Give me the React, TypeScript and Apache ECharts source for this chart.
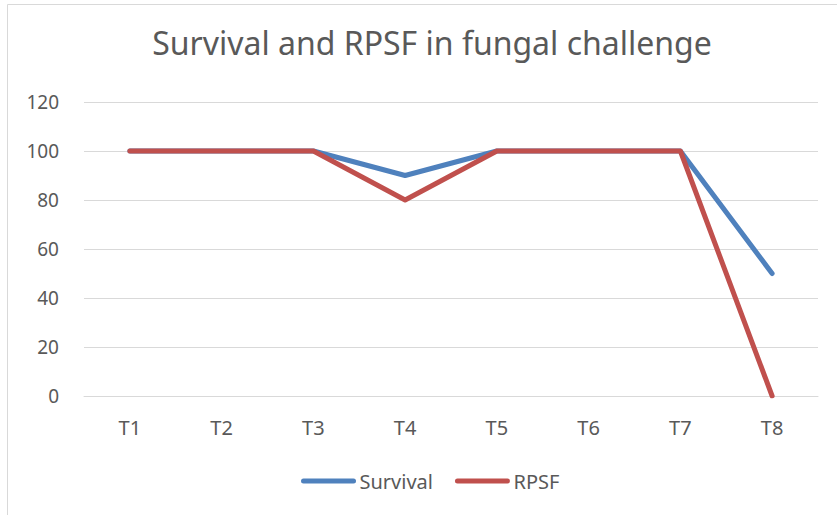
import React, { useEffect, useRef } from "react";
import * as echarts from "echarts";

const categories = ["T1", "T2", "T3", "T4", "T5", "T6", "T7", "T8"];
const survival = [100, 100, 100, 90, 100, 100, 100, 50];
const rpsf = [100, 100, 100, 80, 100, 100, 100, 0];
const titleText = "Survival and RPSF in fungal challenge";

const FONT = "'Noto Sans', sans-serif";
const TXT = "#595959";
const GRID = "#d9d9d9";

export default function App() {
  const ref = useRef<HTMLDivElement>(null);
  useEffect(() => {
    if (!ref.current) return;
    const chart = echarts.init(ref.current, undefined, { renderer: "svg" });
    const pill = "path://M2.5,0 L52.5,0 A2.5,2.5 0 0 1 52.5,5 L2.5,5 A2.5,2.5 0 0 1 2.5,0 Z";
    chart.setOption({
      animation: false,
      backgroundColor: "#ffffff",
      title: {
        text: titleText,
        left: 427,
        textAlign: "center",
        top: 21,
        textStyle: { fontFamily: FONT, fontSize: 32, fontWeight: "normal", color: TXT },
      },
      graphic: [
        {
          type: "rect",
          shape: { x: 7.5, y: 4.5, width: 1000, height: 1000 },
          style: { fill: "none", stroke: GRID, lineWidth: 1 },
          silent: true,
        },
      ],
      legend: {
        left: 296,
        top: 466,
        itemWidth: 56,
        itemHeight: 5,
        itemGap: 22,
        textStyle: { fontFamily: FONT, fontSize: 20, color: TXT, padding: [0, 0, 0, -2] },
        data: [
          { name: "Survival", icon: pill },
          { name: "RPSF", icon: pill },
        ],
      },
      grid: { left: 84, right: 19, top: 102, bottom: 119, containLabel: false },
      xAxis: {
        type: "category",
        data: categories,
        boundaryGap: true,
        axisLine: { show: true, lineStyle: { color: GRID, width: 1 } },
        axisTick: { show: false },
        axisLabel: { fontFamily: FONT, fontSize: 20, color: TXT, margin: 21 },
      },
      yAxis: {
        type: "value",
        min: 0,
        max: 120,
        interval: 20,
        axisLine: { show: false },
        axisTick: { show: false },
        splitLine: { lineStyle: { color: GRID, width: 1 } },
        axisLabel: { fontFamily: FONT, fontSize: 19, color: TXT, margin: 25 },
      },
      series: [
        {
          name: "Survival",
          type: "line",
          data: survival,
          symbol: "none",
          color: "#4f81bd",
          lineStyle: { width: 5, color: "#4f81bd", cap: "round", join: "round" },
        },
        {
          name: "RPSF",
          type: "line",
          data: rpsf,
          symbol: "none",
          color: "#c0504d",
          lineStyle: { width: 5, color: "#c0504d", cap: "round", join: "round" },
        },
      ],
    });
    return () => chart.dispose();
  }, []);
  return (
    <div
      ref={ref}
      style={{ position: "fixed", left: 0, top: 0, width: 837, height: 515 }}
    />
  );
}
